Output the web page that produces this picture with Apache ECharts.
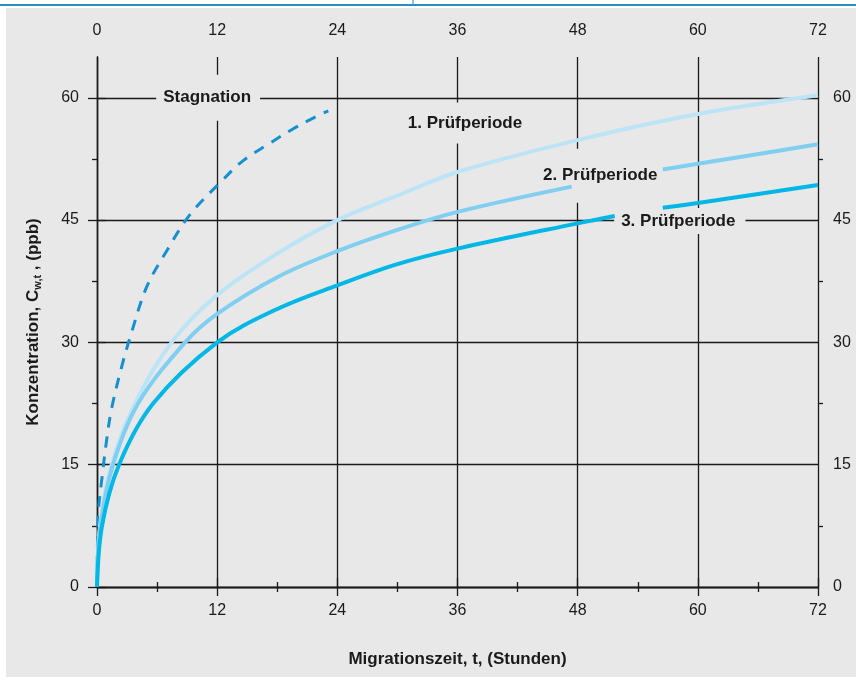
<!DOCTYPE html>
<html><head><meta charset="utf-8">
<script src="https://cdn.jsdelivr.net/npm/echarts@6/dist/echarts.min.js"></script>
<style>html,body{margin:0;padding:0;background:#fff}#c{width:856px;height:682px}</style>
</head><body><div id="c"></div>
<script>
// ---- data ----
const xTicks = [0, 12, 24, 36, 48, 60, 72];
const yTicks = [0, 15, 30, 45, 60];
const yMinorTicks = [7.5, 22.5, 37.5, 52.5];

const stagHours = [0, 0.13, 0.47, 0.96, 1.46, 2.46, 3.3, 4.96, 7, 9.3, 12.3, 14.6, 17.1, 19.6, 21.9, 23.1];
const stagConc  = [0, 9.0, 13.1, 18.0, 21.9, 27.0, 30.6, 36.8, 41.3, 45.7, 49.6, 52.3, 54.3, 56.2, 57.7, 58.4];

const p1Hours = [0, 0.3, 1.46, 3.8, 7.45, 12, 18, 24, 30, 36, 48, 60, 72];
const p1Conc  = [0, 7.5, 15, 22.5, 30, 35.8, 40.9, 45.0, 48.0, 50.9, 54.8, 58.0, 60.3];

const p2Hours = [0, 0.35, 1.6, 4.1, 8.8, 12, 18, 24, 30, 36, 47.4, 52, 56.5, 60, 72];
const p2Conc  = [0, 7.5, 15, 22.5, 30, 33.5, 38.0, 41.2, 43.8, 46.0, 49.1, null, 51.2, 51.9, 54.3];

const p3Hours = [0, 0.5, 2.2, 5.6, 12, 18, 24, 30, 36, 48, 51.7, 54, 56.5, 60, 72];
const p3Conc  = [0, 7.5, 15, 22.5, 30, 34.1, 37.0, 39.6, 41.5, 44.6, 45.5, null, 46.5, 47.1, 49.3];

const labelTexts = ['Stagnation', '1. Prüfperiode', '2. Prüfperiode', '3. Prüfperiode'];
const labelHours = [11.1, 36.75, 50.3, 58.2];
const labelConc  = [60.0, 56.9, 50.45, 44.9];

// ---- chart ----
const FONT = "'Liberation Sans', Arial, sans-serif";
const INK = '#1a1a1a';
const BG = '#e8e8e8';
const pair = (xs, ys) => xs.map((x, i) => [x, ys[i]]);

const labelPads = [[16, 9, 13, 7], [14, 8, 10, 8], [22, 4, 15, 3], [5, 10, 4, 7]];

const chart = echarts.init(document.getElementById('c'), null, {renderer: 'canvas'});

const xAxisBase = {
  type: 'value', min: 0, max: 72, interval: 12,
  axisLine: {show: true, lineStyle: {color: INK, width: 1.3}},
  axisTick: {show: true, length: 9, lineStyle: {color: INK, width: 1.3}},
  minorTick: {show: true, splitNumber: 2, length: 5, lineStyle: {color: INK, width: 1.3}},
  axisLabel: {color: INK, fontSize: 16, fontFamily: FONT},
  splitLine: {show: false}
};
const yMajor = (pos) => ({
  type: 'value', position: pos, min: 0, max: 65,
  axisLine: {show: true, lineStyle: {color: INK, width: 1.3}},
  axisTick: {show: true, length: 9, customValues: yTicks, lineStyle: {color: INK, width: 1.3}},
  axisLabel: {show: true, customValues: yTicks, color: INK, fontSize: 16, fontFamily: FONT,
              margin: pos === 'left' ? 18 : 15},
  splitLine: {show: pos === 'left', lineStyle: {color: INK, width: 1.3}},
  minorTick: {show: false}
});
const yMinor = (pos) => ({
  type: 'value', position: pos, min: 0, max: 65,
  axisLine: {show: false},
  axisTick: {show: true, length: 5, customValues: yMinorTicks, lineStyle: {color: INK, width: 1.3}},
  axisLabel: {show: false},
  splitLine: {show: false}
});

const curve = (name, xs, ys, color, width, z, dash) => ({
  type: 'line', name, data: pair(xs, ys), showSymbol: false, smooth: 0.35,
  connectNulls: false, z, lineStyle: {color, width, type: dash || 'solid'}
});

chart.setOption({
  backgroundColor: '#ffffff',
  animation: false,
  textStyle: {fontFamily: FONT},
  graphic: [
    {type: 'rect', z: -10, silent: true, shape: {x: 6, y: 8, width: 850, height: 669}, style: {fill: BG}},
    {type: 'line', z: -10, silent: true, shape: {x1: 0, y1: 5, x2: 856, y2: 5}, style: {stroke: '#2b8cc4', lineWidth: 2}},
    {type: 'line', z: -10, silent: true, shape: {x1: 413, y1: 0, x2: 413, y2: 5}, style: {stroke: '#2b8cc4', lineWidth: 1}}
  ],
  grid: {left: 97, right: 38, top: 57, bottom: 95, containLabel: false},
  xAxis: [
    Object.assign({}, xAxisBase, {
      position: 'bottom',
      axisLabel: Object.assign({}, xAxisBase.axisLabel, {margin: 16}),
      splitLine: {show: true, lineStyle: {color: INK, width: 1.3}},
      name: 'Migrationszeit, t, (Stunden)', nameLocation: 'middle', nameGap: 64,
      nameTextStyle: {color: INK, fontSize: 17, fontWeight: 'bold', fontFamily: FONT}
    }),
    Object.assign({}, xAxisBase, {
      position: 'top',
      axisLabel: Object.assign({}, xAxisBase.axisLabel, {margin: 18})
    })
  ],
  yAxis: [
    Object.assign(yMajor('left'), {
      name: 'Konzentration, C{s|w,t} , (ppb)', nameLocation: 'middle', nameGap: 54, nameRotate: 90,
      nameTextStyle: {color: INK, fontSize: 17, fontWeight: 'bold', fontFamily: FONT,
        rich: {s: {fontSize: 11, fontWeight: 'bold', fontFamily: FONT, color: INK, padding: [9, 0, 0, 0]}}}
    }),
    yMajor('right'),
    yMinor('left'),
    yMinor('right')
  ],
  series: [
    curve('Stagnation', stagHours, stagConc, '#1590cf', 3, 3, [11, 9]),
    curve('1. Prüfperiode', p1Hours, p1Conc, '#bce4f7', 4, 3),
    curve('2. Prüfperiode', p2Hours, p2Conc, '#80cef0', 4, 4),
    curve('3. Prüfperiode', p3Hours, p3Conc, '#00b7e6', 4, 5),
    {type: 'scatter', z: 1, symbolSize: 0, silent: true, itemStyle: {opacity: 1},
     data: labelTexts.map((t, i) => ({
       name: t, value: [labelHours[i], labelConc[i]],
       label: {padding: labelPads[i]}
     })),
     label: {show: true, position: 'inside', formatter: p => p.name, color: INK, opacity: 1,
             fontSize: 17, fontWeight: 'bold', fontFamily: FONT, backgroundColor: BG}}
  ]
});
</script></body></html>
